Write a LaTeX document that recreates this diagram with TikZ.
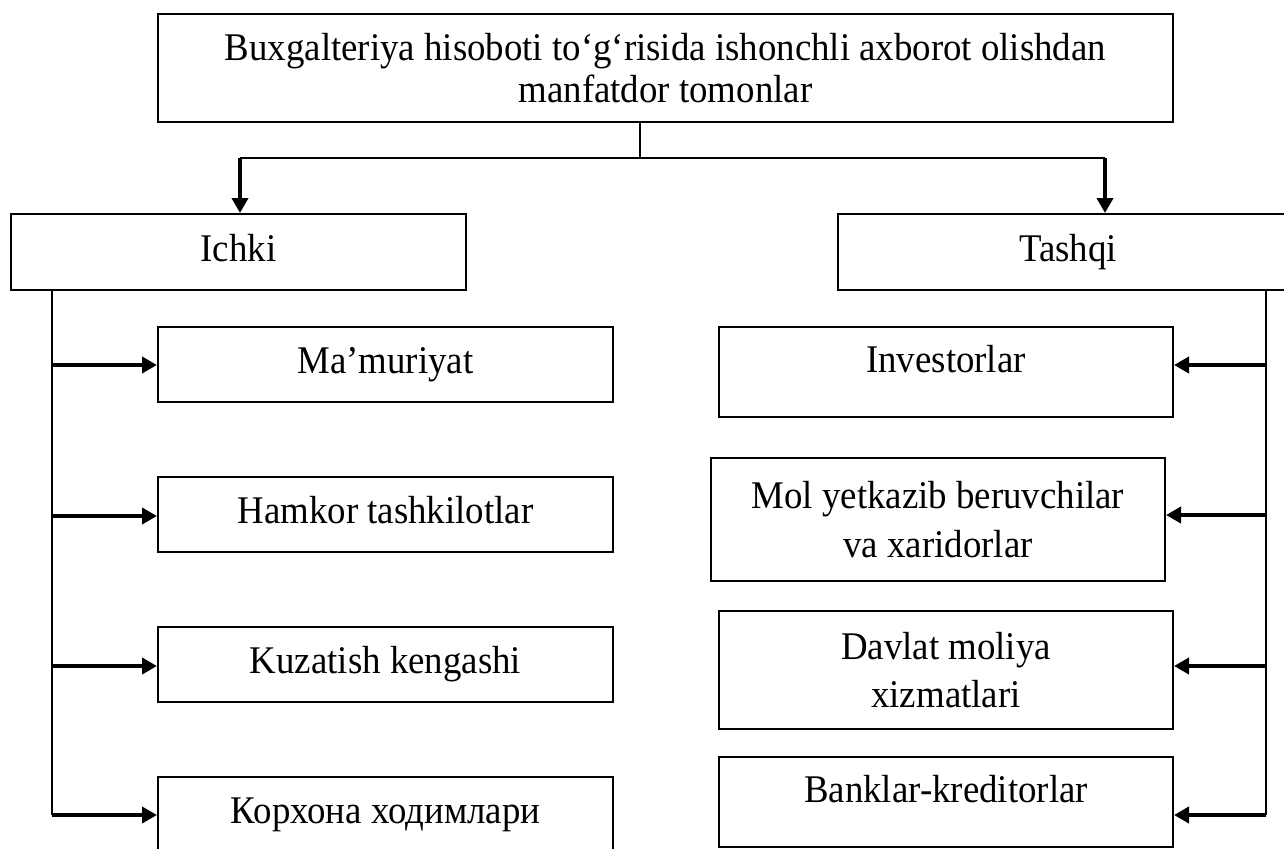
\documentclass[tikz,border=0pt]{standalone}
\usepackage{fontspec}
\setmainfont{Liberation Serif}[FakeStretch=0.94]
\usetikzlibrary{arrows.meta}
\begin{document}
\begin{tikzpicture}[x=0.5pt,y=-0.5pt,
  box/.style={draw,line width=1pt,inner sep=0pt,align=center,
    font=\fontsize{19.6}{21}\selectfont},
  one/.style={text height=13pt,text depth=4pt},
  upper/.style={text height=13pt,text depth=13pt},
  link/.style={line width=0.9pt},
  feed/.style={line width=2pt,-{Triangle[length=7.5pt,width=8pt]}},
]
\useasboundingbox (0,0) rectangle (1284,848);

% root and the two groups
\node[box,minimum width=507.5pt,minimum height=54pt] (top) at (665.5,68)
  {Buxgalteriya hisoboti to‘g‘risida ishonchli axborot olishdan\\manfatdor tomonlar};
\node[box,one,minimum width=227.5pt,minimum height=38pt] (ichki) at (238.5,252) {Ichki};
\node[box,one,minimum width=230pt,minimum height=38pt] (tashqi) at (1068,252) {Tashqi};

% internal users
\node[box,one,minimum width=227.5pt,minimum height=37.5pt] (mam) at (385.5,364.5) {Ma’muriyat};
\node[box,one,minimum width=227.5pt,minimum height=37.5pt] (ham) at (385.5,514.5) {Hamkor tashkilotlar};
\node[box,one,minimum width=227.5pt,minimum height=37.5pt] (kuz) at (385.5,664.5) {Kuzatish kengashi};
\node[box,one,minimum width=227.5pt,minimum height=37.5pt] (kor) at (385.5,814.5) {Корхона ходимлари};

% external users
\node[box,upper,minimum width=227pt,minimum height=45pt] (inv) at (946,372) {Investorlar};
\node[box,minimum width=227pt,minimum height=61.5pt,
  font=\fontsize{19.6}{24.5}\selectfont] (mol) at (938,519.5) {Mol yetkazib beruvchilar\\va xaridorlar};
\node[box,minimum width=227pt,minimum height=59pt,
  font=\fontsize{19.6}{24}\selectfont] (dav) at (946,670) {Davlat moliya\\xizmatlari};
\node[box,upper,minimum width=227pt,minimum height=45pt] (bank) at (946,802) {Banklar-kreditorlar};

% branching from the root
\coordinate (hub) at (640,158);
\coordinate (hl) at (240,158);
\coordinate (hr) at (1105,158);
\draw[link] (top.south -| hub) -- (hub);
\draw[link] (hl) -- (hr);
\draw[feed] (hl) -- (hl |- ichki.north);
\draw[feed] (hr) -- (hr |- tashqi.north);

% left spine
\coordinate (ls) at (52,815);
\draw[link] (ichki.south -| ls) -- (ls);
\foreach \n/\y in {mam/365,ham/516,kuz/666,kor/815}{
  \coordinate (l\n) at (52,\y);
  \draw[feed] (l\n) -- (l\n -| \n.west);
}

% right spine
\coordinate (rs) at (1266,815);
\draw[link] (tashqi.south -| rs) -- (rs);
\foreach \n/\y in {inv/365,mol/515,dav/666,bank/815}{
  \coordinate (r\n) at (1266,\y);
  \draw[feed] (r\n) -- (r\n -| \n.east);
}
\end{tikzpicture}
\end{document}
